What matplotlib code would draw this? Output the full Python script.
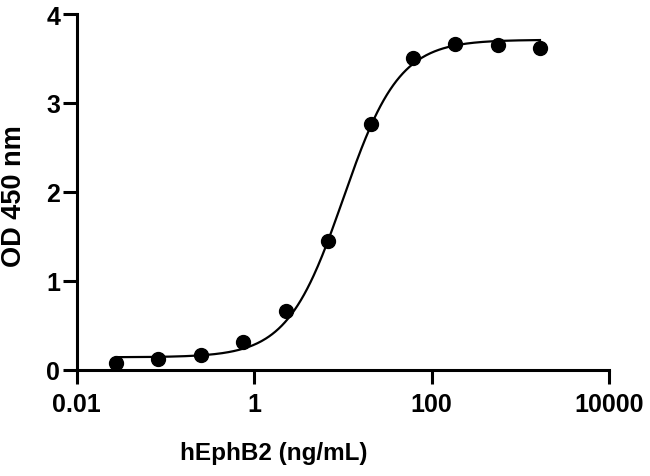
import numpy as np
import matplotlib
matplotlib.use("Agg")
import matplotlib.pyplot as plt

# Data
conc = [0.0277, 0.0833, 0.25, 0.75, 2.29, 6.86, 20.6, 61.7, 185, 556, 1667]
od450 = [0.08, 0.12, 0.165, 0.31, 0.66, 1.45, 2.76, 3.51, 3.66, 3.65, 3.62]

# 4-parameter logistic fit parameters (estimated from the curve)
fit_bottom = 0.14
fit_top = 3.71
fit_ec50 = 10.1
fit_hill = 1.38

xticks = [0.01, 1, 100, 10000]
xticklabels = ["0.01", "1", "100", "10000"]
yticks = [0, 1, 2, 3, 4]

plt.rcParams['font.family'] = ['Liberation Sans', 'DejaVu Sans']
plt.rcParams['font.weight'] = 'bold'

fig = plt.figure(figsize=(6.5, 4.77), dpi=100)
ax = fig.add_axes([76.7/650, 106.3/477, (609-76.7)/650, (370.7-15)/477])

xs = np.logspace(np.log10(conc[0]), np.log10(conc[-1]), 400)
ys = fit_bottom + (fit_top - fit_bottom) / (1 + (fit_ec50 / xs) ** fit_hill)
ax.plot(xs, ys, color='black', lw=1.6, zorder=2)
ax.plot(conc, od450, 'o', color='black', ms=10, zorder=3, clip_on=False)

ax.set_xscale('log')
ax.set_xlim(0.01, 10000)
ax.set_ylim(0, 4)
ax.set_xticks(xticks)
ax.set_xticklabels(xticklabels)
ax.xaxis.set_minor_locator(matplotlib.ticker.NullLocator())
ax.set_yticks(yticks)

for s in ['top', 'right']:
    ax.spines[s].set_visible(False)
for s in ['left', 'bottom']:
    ax.spines[s].set_linewidth(2.2)
ax.tick_params(axis='both', direction='out', length=10, width=2.2, labelsize=18)
ax.tick_params(axis='x', pad=6)
ax.tick_params(axis='y', pad=2)
for lab in ax.get_xticklabels() + ax.get_yticklabels():
    lab.set_fontweight('bold')

ax.set_xlabel("hEphB2 (ng/mL)", fontsize=17.5, fontweight='bold')
ax.set_ylabel("OD 450 nm", fontsize=19.5, fontweight='bold')
ax.xaxis.set_label_coords(0.371, -0.2)
ax.yaxis.set_label_coords(-0.093, 0.49)

fig.savefig("out.png", dpi=100)
